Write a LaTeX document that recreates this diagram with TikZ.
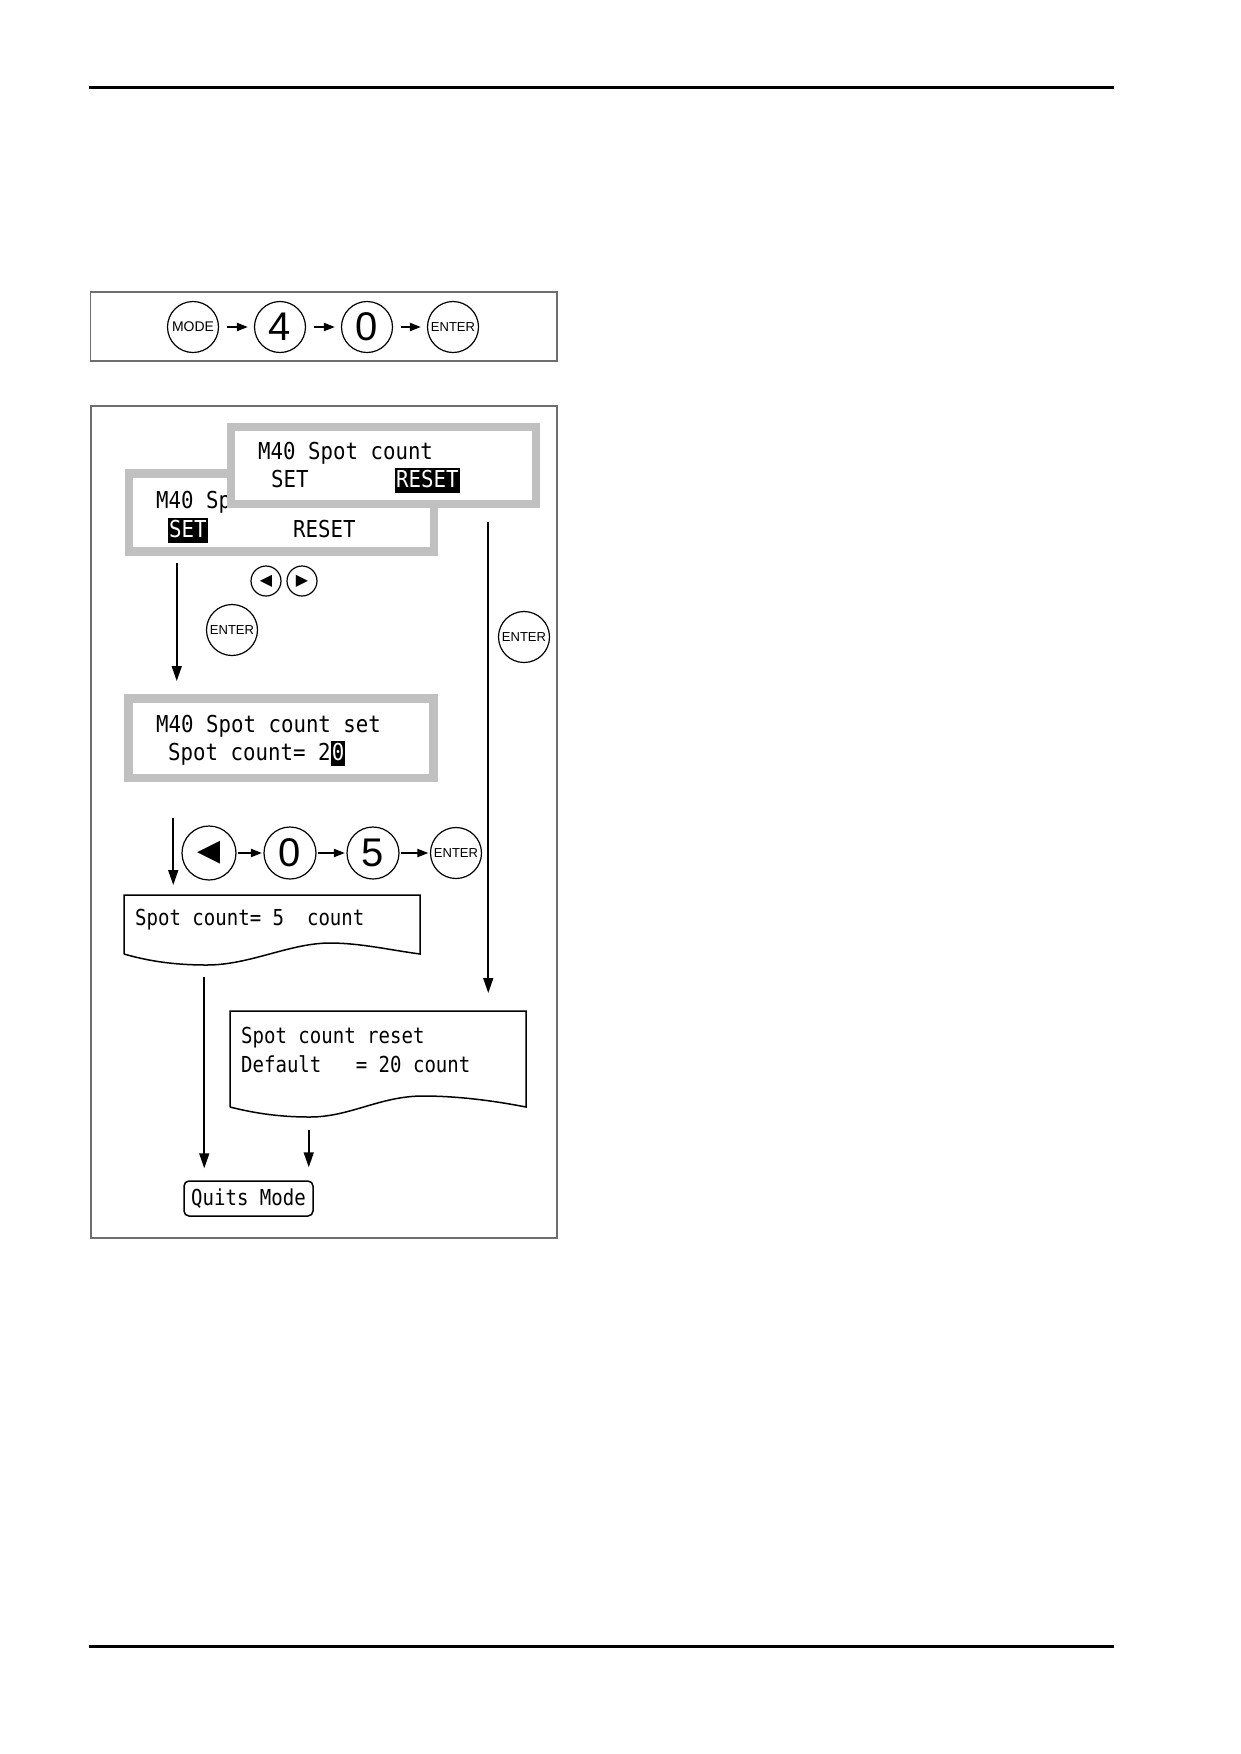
\documentclass[tikz,border=0pt]{standalone}
\usepackage{fontspec}
\setmainfont{Liberation Sans}
\newfontfamily\lcdfont[FakeStretch=0.89]{DejaVu Sans Mono}
\newfontfamily\docfont[FakeStretch=0.865]{DejaVu Sans Mono}
\newfontfamily\symfont{DejaVu Sans}
\usepackage{tikz}
\usetikzlibrary{calc,positioning,arrows.meta}

\definecolor{lcdgray}{RGB}{192,192,192}
\definecolor{boxgray}{RGB}{110,110,110}

\tikzset{
  key/.style={circle, draw, line width=1.2pt, minimum size=51pt, inner sep=0pt},
  numkey/.style={key, font=\fontsize{40}{40}\selectfont},
  wordkey/.style={key, font=\fontsize{13}{13}\selectfont},
  navkey/.style={key, minimum size=30pt, font=\symfont\fontsize{16}{16}\selectfont},
  lcd/.style={draw=lcdgray, line width=8.5pt, fill=white, minimum width=305pt, minimum height=78pt},
  lcdtext/.style={anchor=base west, inner sep=0pt, font=\lcdfont\fontsize{23.3}{28}\selectfont},
  inv/.style={lcdtext, fill=black, text=white, inner xsep=1pt, inner ysep=2pt, text height=17pt, text depth=4pt},
  doctext/.style={anchor=base west, inner sep=0pt, font=\docfont\fontsize{22}{26}\selectfont},
  docarea/.style={rectangle, inner sep=0pt, outer sep=0pt},
  docline/.style={line width=1.5pt},
  conn/.style={-{Triangle[length=15pt,width=10pt]}, line width=1.6pt},
  keyarr/.style={-{Triangle[length=11pt,width=8pt]}, line width=2pt},
  frame/.style={draw=boxgray, line width=1.6pt},
  rule/.style={line width=3pt}
}

\begin{document}
\begin{tikzpicture}[x=1pt,y=-1pt]
  \useasboundingbox (0,0) rectangle (1240,1754);
  \draw[rule] (89,87) -- (1114,87);
  \draw[rule] (89,1646) -- (1114,1646);

  % key sequence
  \draw[frame] (90.5,292) rectangle (557,361);
  \node[wordkey, font=\fontsize{14}{14}\selectfont] (mode) at (193,327) {MODE};
  \node[numkey] (four) at (280,327) {4};
  \node[numkey] (zero) at (367,327) {0};
  \node[wordkey] (enterA) at (453,327) {ENTER};
  \draw[keyarr, shorten <=8pt, shorten >=6pt] (mode) -- (four);
  \draw[keyarr, shorten <=8pt, shorten >=6pt] (four) -- (zero);
  \draw[keyarr, shorten <=8pt, shorten >=6pt] (zero) -- (enterA);

  % flow
  \draw[frame] (91,406) rectangle (557,1238);

  \node[lcd] (lcdA) at (281.5,512.7) {};
  \node[lcdtext] (lcdAa) at (156,508) {M40 Sp};
  \node[inv] (lcdAb) at (168,537) {SET};
  \node[lcdtext] (lcdAc) at (293,537) {RESET};

  \node[lcd, minimum height=77pt] (lcdB) at (383.5,465.5) {};
  \node[lcdtext] (lcdBa) at (258,459) {M40 Spot count};
  \node[lcdtext] (lcdBb) at (271,487) {SET};
  \node[inv] (lcdBc) at (395,487) {RESET};

  \node[navkey] (navL) at (266,581) {◀};
  \node[navkey] (navR) at (302,581) {▶};
  \node[wordkey] (enterB) at (232,630) {ENTER};
  \node[wordkey] (enterC) at (524,637) {ENTER};

  \node[lcd, minimum height=79.5pt] (lcdC) at (281,738) {};
  \node[lcdtext] (lcdCa) at (156,732) {M40 Spot count set};
  \node[lcdtext] (lcdCb) at (168,760) {Spot count= 2};
  \node[inv, anchor=base west] (lcdCc) at (lcdCb.base east) {0};

  \node[key, minimum size=54pt, font=\symfont\fontsize{30}{30}\selectfont] (left2) at (209,853) {◀};
  \node[numkey, minimum size=52pt] (zeroB) at (290,853) {0};
  \node[numkey, minimum size=52pt] (five) at (373,853) {5};
  \node[wordkey] (enterD) at (456,853) {ENTER};
  \draw[keyarr, shorten <=1.5pt, shorten >=1.5pt] (left2) -- (zeroB);
  \draw[keyarr, shorten <=1.5pt, shorten >=1.5pt] (zeroB) -- (five);
  \draw[keyarr, shorten <=1.5pt, shorten >=1.5pt] (five) -- (enterD);

  \node[docarea, minimum width=296pt, minimum height=59pt] (docA) at (272,924.5) {};
  \draw[docline] (docA.south west) -- (docA.north west) -- (docA.north east) -- (docA.south east)
    .. controls (390,950) and (360,943) .. (330,943)
    .. controls (290,943) and (250,965) .. (207,965)
    .. controls (170,965) and (145,960) .. (docA.south west);
  \node[doctext] (docAa) at (135,925) {Spot count= 5\ \ count};

  \node[docarea, minimum width=296pt, minimum height=96pt] (docB) at (378,1059) {};
  \draw[docline] (docB.south west) -- (docB.north west) -- (docB.north east) -- (docB.south east)
    .. controls (490,1100) and (455,1096) .. (423,1096)
    .. controls (380,1096) and (350,1117) .. (310,1117)
    .. controls (275,1117) and (250,1112) .. (docB.south west);
  \node[doctext] (docBa) at (241,1043) {Spot count reset};
  \node[doctext] (docBb) at (241,1072) {Default\ \ \ = 20 count};

  \node[draw, line width=1.5pt, rounded corners=5pt, minimum width=129pt, minimum height=35pt,
    inner sep=0pt, font=\docfont\fontsize{22}{26}\selectfont] (quits) at (248.5,1198.5) {Quits Mode};

  \draw[conn, shorten <=7pt, shorten >=13pt] ([xshift=52pt]lcdA.south west) -- ([xshift=52pt]lcdA.south west |- lcdC.north);
  \draw[conn, shorten <=14pt, shorten >=18pt] ([xshift=-52pt]lcdB.south east) -- ([xshift=-52pt]lcdB.south east |- docB.north);
  \draw[conn, shorten <=36pt, shorten >=10pt] ([xshift=49pt]lcdC.south west) -- ([xshift=49pt]lcdC.south west |- docA.north);
  \draw[conn, shorten <=23pt, shorten >=12pt] ([xshift=21pt]quits.north west |- docA.south) -- ([xshift=21pt]quits.north west);
  \draw[conn, shorten <=23pt, shorten >=13pt] ([xshift=-5pt]quits.north east |- docB.south) -- ([xshift=-5pt]quits.north east);
\end{tikzpicture}
\end{document}
